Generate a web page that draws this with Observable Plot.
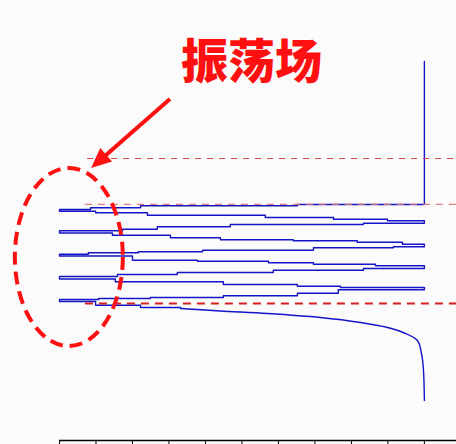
<!DOCTYPE html>
<html>
<head>
<meta charset="utf-8">
<script src="https://cdn.jsdelivr.net/npm/d3@7"></script>
<script src="https://cdn.jsdelivr.net/npm/@observablehq/plot@0.6"></script>
<style>
  html, body { margin: 0; padding: 0; background: #fbfbfb; overflow: hidden; }
</style>
</head>
<body>
<div id="chart"></div>
<script>
// Time axis: one tick per session
const sessions = d3.range(0, 11);
const xMax = 10.88;

// Price path through the range. Each entry opens a flat run that lasts until the next entry's x.
const runX = [
  10,
  10, 6.52, 2.22, 0.85,
  0, 0.99, 2.41, 5.64, 7.51, 8.99,
  10, 8.33, 4.68, 2.68, 1.73,
  0, 1.45, 3.04, 4.41, 6.41, 8.16, 9.40,
  10, 9.15, 6.96, 3.92, 2.16, 0.79,
  0, 2.0, 3.78, 5.73, 6.96, 8.66,
  10, 8.33, 5.86, 3.23, 1.59,
  0, 1.53, 4.49, 6.52, 7.70,
  10, 7.64, 6.52, 4.49, 2.49, 1.07,
  0, 0.99, 2.22, 3.32
];
const runY = [
  37.9,
  23.6, 23.47, 23.27, 23.1,
  22.93, 22.77, 22.53, 22.3, 22.13, 21.97,
  21.73, 21.6, 21.37, 21.13, 20.97,
  20.75, 20.53, 20.27, 20.07, 19.97, 19.83, 19.63,
  19.37, 19.27, 19.03, 18.87, 18.77, 18.63,
  18.45, 18.03, 17.93, 17.77, 17.63, 17.47,
  17.2, 17.03, 16.8, 16.6, 16.4,
  16.15, 15.87, 15.6, 15.43, 15.3,
  15.07, 14.73, 14.47, 14.3, 14.2, 14.1,
  13.9, 13.53, 13.3, 13.2
];

// Breakdown after the range: a gradual slide that turns into a plunge
const tailX = [3.32, 4.41, 5.70, 7.15, 8.25, 8.99, 9.42, 9.81, 9.92, 9.97, 10];
const tailY = [13.2, 12.95, 12.7, 12.3, 11.8, 11.3, 10.8, 10.0, 8.7, 7.3, 4.0];

// Horizontal reference levels and where each one starts
const levelTop = 28.2, levelMid = 23.62, levelLow = 13.7;
const levelStart = [0.77, 0.71, 0.71];

// Annotation: title, pointer arrow and the ring around the left tips
const title = "振荡场";
const titlePos = {x: 5.26, y: 37.8};
const arrow = {x1: 3.04, y1: 34.1, x2: 0.88, y2: 27.2};
const ring = {cx: 0.27, cy: 18.3, rx: 1.48, ry: 8.9};

const path = runX.map((x, i) => ({x, y: runY[i]}));
const tail = tailX.map((x, i) => ({x, y: tailY[i]}));
const red = "#ff1010";
const blue = "#1414c8";

const ringMark = (index, scales) => {
  const cx = scales.x(ring.cx), cy = scales.y(ring.cy);
  return d3.create("svg:ellipse")
    .attr("cx", cx).attr("cy", cy)
    .attr("rx", scales.x(ring.cx + ring.rx) - cx)
    .attr("ry", cy - scales.y(ring.cy + ring.ry))
    .attr("fill", "none")
    .attr("stroke", red)
    .attr("stroke-width", 4)
    .attr("stroke-dasharray", "13 7")
    .node();
};

const arrowMark = (index, scales) => {
  const sx = scales.x(arrow.x1), sy = scales.y(arrow.y1);
  const tx = scales.x(arrow.x2), ty = scales.y(arrow.y2);
  const len = Math.hypot(tx - sx, ty - sy);
  const ux = (tx - sx) / len, uy = (ty - sy) / len;
  const L = 20, W = 9;
  const bx = tx - L * ux, by = ty - L * uy;
  const g = d3.create("svg:g");
  g.append("line")
    .attr("x1", sx).attr("y1", sy).attr("x2", bx + 2 * ux).attr("y2", by + 2 * uy)
    .attr("stroke", red).attr("stroke-width", 4);
  g.append("path")
    .attr("d", `M${tx},${ty}L${bx - W * uy},${by + W * ux}L${bx + W * uy},${by - W * ux}Z`)
    .attr("fill", red);
  return g.node();
};

const chart = Plot.plot({
  width: 456,
  height: 444,
  marginLeft: 59,
  marginRight: 0,
  marginTop: 0,
  marginBottom: 4,
  style: {background: "#fbfbfb", overflow: "visible"},
  x: {domain: [0, xMax], ticks: sessions, tickSize: 6, tickFormat: () => "", label: null},
  y: {domain: [0, 44], axis: null},
  marks: [
    Plot.ruleY([0], {stroke: "#000", strokeWidth: 1.5}),
    Plot.line(path, {x: "x", y: "y", curve: "step-after", stroke: blue, strokeWidth: 1.4}),
    Plot.line(tail, {x: "x", y: "y", curve: "catmull-rom", stroke: blue, strokeWidth: 1.4}),
    Plot.ruleY([levelTop], {x1: levelStart[0], x2: xMax, stroke: "#d84848", strokeWidth: 1, strokeDasharray: "6 6"}),
    Plot.ruleY([levelMid], {x1: levelStart[1], x2: xMax, stroke: "#e07070", strokeWidth: 1.2, strokeDasharray: "7 6", strokeOpacity: 0.9}),
    Plot.ruleY([levelLow], {x1: levelStart[2], x2: xMax, stroke: "#d42020", strokeWidth: 1.8, strokeDasharray: "8 6"}),
    ringMark,
    arrowMark,
    Plot.text([title], {
      x: titlePos.x, y: titlePos.y, text: d => d,
      fill: red, fontSize: 47, fontWeight: 900,
      fontFamily: "'Noto Sans CJK SC', sans-serif"
    })
  ]
});

document.getElementById("chart").appendChild(chart);
</script>
</body>
</html>
